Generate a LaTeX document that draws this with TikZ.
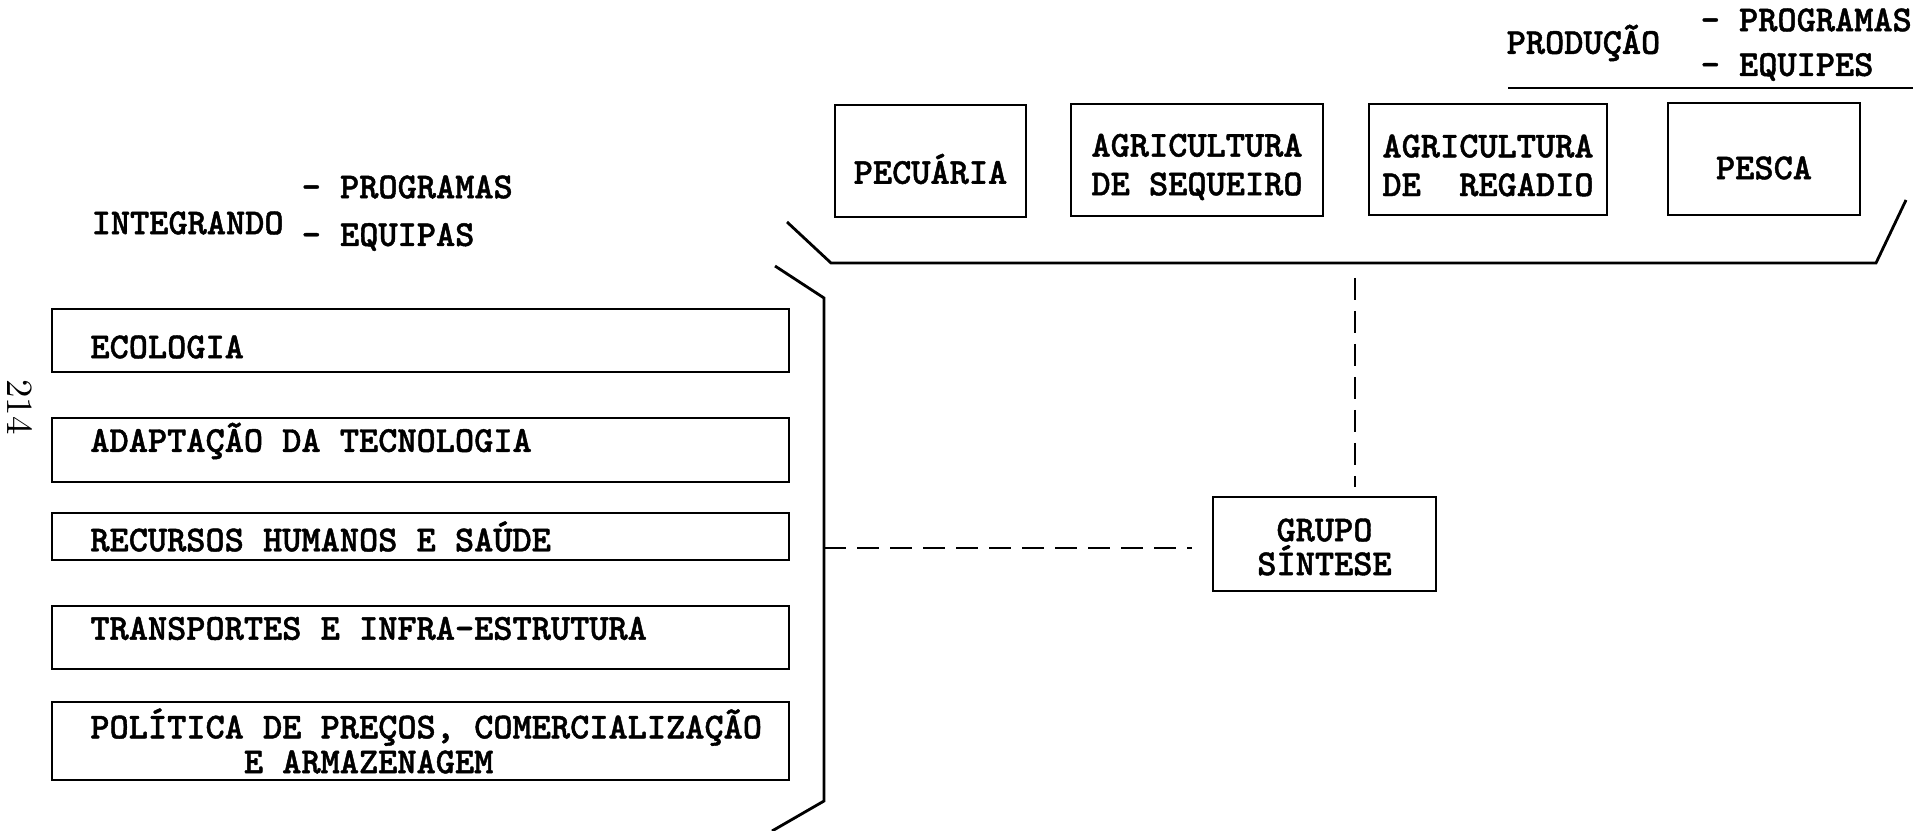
\documentclass[tikz,border=0pt]{standalone}
\usepackage{fontspec}
\usepackage{tikz}
\usetikzlibrary{positioning,calc}
\newfontfamily\typewr{lmmonolt10-bold.otf}[FakeBold=1.2]
\tikzset{
  typed/.style={font=\fontsize{10.4pt}{11pt}\typewr},
  plaintext/.style={typed,inner sep=0pt},
  sector/.style={draw,line width=0.75pt,inner sep=0pt},
  theme/.style={draw,line width=0.75pt,inner sep=0pt,minimum width=73.7mm},
  frame/.style={line width=0.8pt,line join=miter},
  link/.style={line width=0.7pt,dash pattern=on 2.2mm off 1.1mm}
}

\begin{document}
\begin{tikzpicture}[x=0.1mm,y=-0.1mm]
\useasboundingbox (0,0) rectangle (1927,831);
\def\colx{420.5}
\node[plaintext,anchor=west] (producao) at (1506,43) {PRODUÇÃO};
\node[plaintext,anchor=west] (prodprog) at (1700,20) {– PROGRAMAS};
\node[plaintext,anchor=west] (prodequi) at (1700,67) {– EQUIPES};
\draw[frame] (1508,88) -- (1913,88);
\node[sector,minimum width=19.1mm,minimum height=11.2mm] (pecuaria) at (930.5,161) {};
\node[sector,minimum width=25.2mm,minimum height=11.2mm] (sequeiro) at (1197,160) {};
\node[sector,minimum width=23.8mm,minimum height=11.1mm] (regadio) at (1488,159.5) {};
\node[sector,minimum width=19.2mm,minimum height=11.2mm] (pesca) at (1764,159) {};
\node[plaintext] (pecuariatxt) at ([yshift=-0.8mm]pecuaria.center) {PECUÁRIA};
\node[plaintext,align=center] (sequeirotxt) at ([yshift=-0.7mm]sequeiro.center) {AGRICULTURA\\DE SEQUEIRO};
\node[plaintext,align=center] (regadiotxt) at ([yshift=-0.6mm]regadio.center) {AGRICULTURA\\DE\ \ REGADIO};
\node[plaintext] (pescatxt) at ([yshift=-0.9mm]pesca.center) {PESCA};
\draw[frame] (787,222) -- (831,263) -- (1876,263) -- (1906,200);
\node[plaintext,anchor=west] (integrando) at (91,223) {INTEGRANDO};
\node[plaintext,anchor=west] (intprog) at (301,187) {– PROGRAMAS};
\node[plaintext,anchor=west] (intequi) at (301,237) {– EQUIPAS};
\node[rotate=-90,inner sep=0pt,font=\fontsize{10.5}{12}\selectfont] (pageno) at (20,407) {214};
\node[theme,minimum height=6.3mm] (ecologia) at (\colx,340.5) {};
\node[theme,minimum height=6.4mm] (tecnologia) at (\colx,450) {};
\node[theme,minimum height=4.7mm] (recursos) at (\colx,536.5) {};
\node[theme,minimum height=6.3mm] (transportes) at (\colx,637.5) {};
\node[theme,minimum height=7.8mm] (politica) at (\colx,741) {};
\node[plaintext,right=3.9mm of ecologia.west,yshift=-0.65mm] (ecologiatxt) {ECOLOGIA};
\node[plaintext,right=3.9mm of tecnologia.west,yshift=0.9mm] (tecnologiatxt) {ADAPTAÇÃO DA TECNOLOGIA};
\node[plaintext,right=3.9mm of recursos.west] (recursostxt) {RECURSOS HUMANOS E SAÚDE};
\node[plaintext,right=3.9mm of transportes.west,yshift=0.9mm] (transportestxt) {TRANSPORTES E INFRA-ESTRUTURA};
\node[plaintext,align=left,font=\fontsize{10.4pt}{9.9pt}\typewr,right=3.9mm of politica.west] (politicatxt) {POLÍTICA DE PREÇOS, COMERCIALIZAÇÃO\\\hspace*{4.2em}E ARMAZENAGEM};
\draw[frame] (775,266) -- (824,298) -- (824,801) -- (772,831);
\node[sector,minimum width=22.3mm,minimum height=9.4mm] (grupo) at (1324.5,544) {};
\node[plaintext,align=center,font=\fontsize{10.4pt}{8.6pt}\typewr] (grupotxt) at ([yshift=-0.3mm]grupo.center) {GRUPO\\SÍNTESE};
\coordinate (joint) at (824,548);
\coordinate (traytap) at (1355,263);
\draw[link,shorten >=2mm] (joint) -- (joint -| grupo.west);
\draw[link,shorten <=1.5mm,shorten >=0.9mm] (traytap) -- (traytap |- grupo.north);
\end{tikzpicture}
\end{document}
